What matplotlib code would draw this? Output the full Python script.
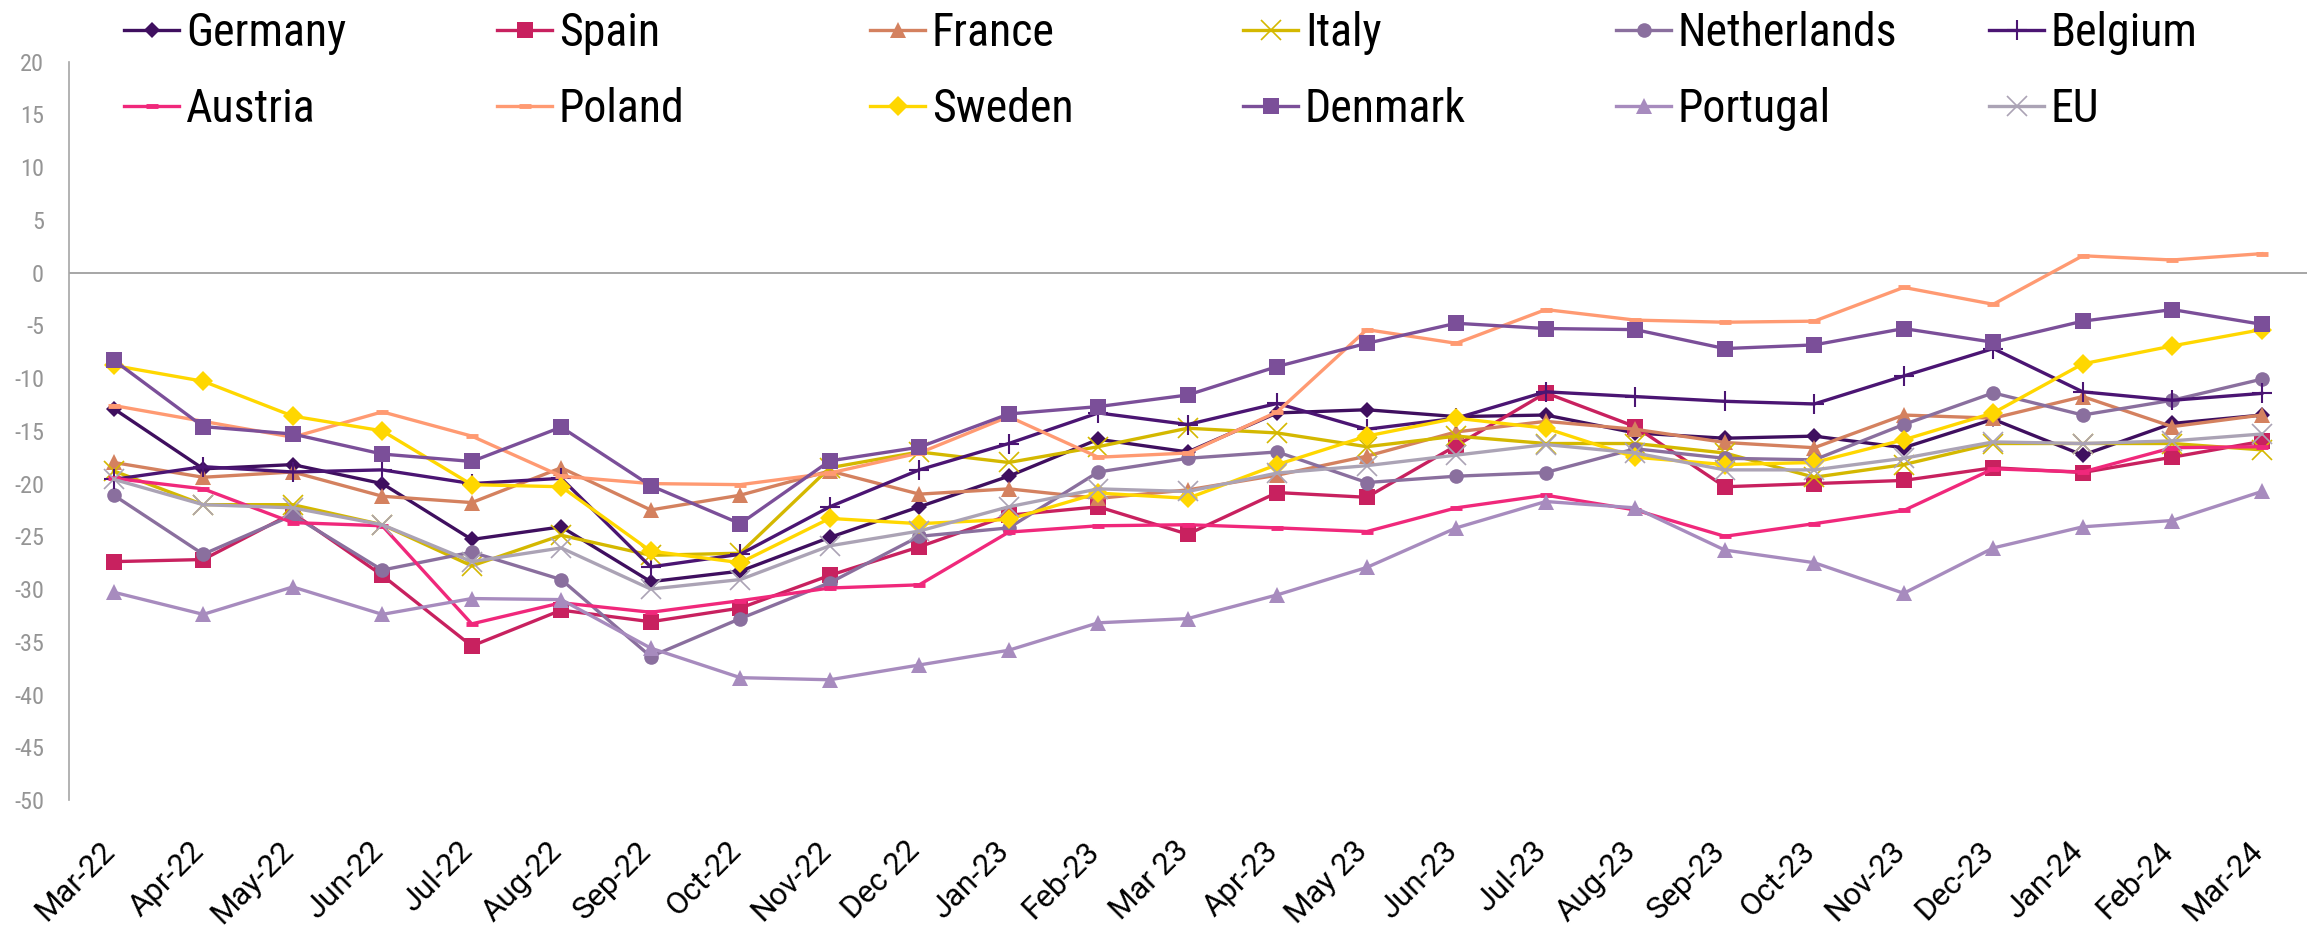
import matplotlib
matplotlib.use("Agg")
import matplotlib.pyplot as plt
from matplotlib import font_manager as fm
from matplotlib.transforms import ScaledTranslation

names_avail = {f.name for f in fm.fontManager.ttflist}
COND = 'Roboto Condensed' if 'Roboto Condensed' in names_avail else 'Roboto'
plt.rcParams['font.family'] = ['Roboto', 'DejaVu Sans']

months = ["Mar-22", "Apr-22", "May-22", "Jun-22", "Jul-22", "Aug-22", "Sep-22", "Oct-22",
          "Nov-22", "Dec 22", "Jan-23", "Feb-23", "Mar 23", "Apr-23", "May 23", "Jun-23",
          "Jul-23", "Aug-23", "Sep-23", "Oct-23", "Nov-23", "Dec-23", "Jan-24", "Feb-24", "Mar-24"]

germany = [-12.9, -18.6, -18.2, -20.0, -25.3, -24.1, -29.3, -28.3, -25.1, -22.2, -19.3, -15.8, -17.0,
           -13.3, -13.0, -13.65, -13.5, -15.2, -15.7, -15.5, -16.6, -13.9, -17.3, -14.3, -13.5]
spain = [-27.4, -27.2, -22.8, -28.7, -35.4, -32.0, -33.1, -31.8, -28.7, -26.0, -23.0, -22.2, -24.8,
         -20.85, -21.3, -16.4, -11.4, -14.6, -20.3, -20.0, -19.7, -18.5, -18.95, -17.5, -16.0]
france = [-18.0, -19.4, -18.9, -21.2, -21.8, -18.5, -22.5, -21.1, -18.8, -21.0, -20.5, -21.4, -20.6,
          -19.2, -17.4, -15.1, -14.1, -14.85, -16.1, -16.6, -13.5, -13.8, -11.75, -14.6, -13.5]
italy = [-18.8, -22.0, -22.0, -23.9, -27.8, -24.9, -26.8, -26.6, -18.5, -17.0, -18.0, -16.5, -14.75,
         -15.2, -16.5, -15.5, -16.2, -16.2, -17.1, -19.4, -18.2, -16.2, -16.2, -16.2, -16.8]
netherlands = [-21.1, -26.7, -23.0, -28.2, -26.5, -29.1, -36.4, -32.8, -29.4, -25.0, -24.2, -18.9, -17.6,
               -17.0, -19.9, -19.3, -18.95, -16.7, -17.6, -17.75, -14.4, -11.4, -13.5, -12.1, -10.1]
belgium = [-19.6, -18.4, -18.9, -18.7, -20.0, -19.5, -27.9, -26.7, -22.2, -18.7, -16.2, -13.3, -14.4,
           -12.4, -14.85, -13.8, -11.3, -11.75, -12.2, -12.45, -9.8, -7.2, -11.3, -12.1, -11.45]
austria = [-19.5, -20.5, -23.7, -24.0, -33.3, -31.3, -32.2, -31.1, -29.9, -29.6, -24.6, -24.0, -23.9,
           -24.2, -24.55, -22.3, -21.1, -22.5, -25.0, -23.8, -22.55, -18.6, -18.9, -16.6, -16.5]
poland = [-12.6, -14.1, -15.6, -13.2, -15.5, -19.3, -20.0, -20.1, -19.0, -17.1, -13.65, -17.5, -17.1,
          -13.2, -5.4, -6.7, -3.5, -4.5, -4.7, -4.6, -1.4, -3.0, 1.6, 1.2, 1.8]
sweden = [-8.8, -10.3, -13.6, -15.0, -20.1, -20.3, -26.4, -27.5, -23.3, -23.8, -23.4, -20.9, -21.4,
          -18.2, -15.5, -13.8, -14.75, -17.5, -18.2, -18.0, -15.85, -13.3, -8.65, -6.95, -5.4]
denmark = [-8.3, -14.6, -15.3, -17.2, -17.9, -14.65, -20.2, -23.8, -17.85, -16.55, -13.4, -12.7, -11.6,
           -8.9, -6.7, -4.8, -5.3, -5.4, -7.2, -6.85, -5.3, -6.6, -4.6, -3.5, -4.9]
portugal = [-30.3, -32.4, -29.8, -32.4, -30.9, -31.0, -35.6, -38.4, -38.6, -37.2, -35.8, -33.2, -32.8,
            -30.55, -27.95, -24.2, -21.7, -22.3, -26.3, -27.5, -30.4, -26.1, -24.1, -23.5, -20.75]
eu = [-19.6, -22.0, -22.3, -23.9, -27.4, -26.1, -30.0, -29.1, -25.9, -24.5, -22.2, -20.5, -20.75,
      -19.0, -18.3, -17.3, -16.3, -17.1, -18.7, -18.7, -17.6, -16.05, -16.2, -15.95, -15.3]

series_names = ["Germany", "Spain", "France", "Italy", "Netherlands", "Belgium",
                "Austria", "Poland", "Sweden", "Denmark", "Portugal", "EU"]
series_values = [germany, spain, france, italy, netherlands, belgium,
                 austria, poland, sweden, denmark, portugal, eu]

styles = {
    "Germany":     dict(color="#3F0F5F", marker="D", ms=8, mew=0),
    "Spain":       dict(color="#C8215F", marker="s", ms=11, mew=0),
    "France":      dict(color="#D4815F", marker="^", ms=11, mew=0),
    "Italy":       dict(color="#D4B800", marker="x", ms=14, mew=1.2),
    "Netherlands": dict(color="#8A6F9E", marker="o", ms=10.5, mew=0),
    "Belgium":     dict(color="#4B1573", marker="+", ms=15, mew=1.5),
    "Austria":     dict(color="#F0287B", marker="_", ms=8, mew=3.5),
    "Poland":      dict(color="#FF9A72", marker="_", ms=8, mew=3.5),
    "Sweden":      dict(color="#FFD700", marker="D", ms=10, mew=0),
    "Denmark":     dict(color="#7B4F99", marker="s", ms=12, mew=0),
    "Portugal":    dict(color="#A78BBE", marker="^", ms=11.5, mew=0),
    "EU":          dict(color="#ABA3B5", marker="x", ms=14, mew=1.2),
}

W, H = 2313, 930
fig = plt.figure(figsize=(W / 100, H / 100), dpi=100)
ax = fig.add_axes([69 / W, 1 - 800 / H, (2306.5 - 69) / W, (800 - 61.7) / H])

x = list(range(len(months)))
handles = []
for i, (name, vals) in enumerate(zip(series_names, series_values)):
    st = styles[name]
    h, = ax.plot(x, vals, color=st["color"], lw=2.4, marker=st["marker"], ms=st["ms"],
                 mew=st["mew"], mec=st["color"], mfc=st["color"], zorder=3 + i,
                 solid_joinstyle="round")
    handles.append(h)

ax.axhline(0, color="#A6A6A6", lw=1.4, zorder=2)
ax.set_xlim(-0.5, len(months) - 0.5)
ax.set_ylim(-50, 20)
ax.set_yticks(range(-50, 25, 5))
ax.set_yticklabels([str(v) for v in range(-50, 25, 5)], fontsize=17.5, color="#959595", family=COND)
for s in ["top", "right", "bottom"]:
    ax.spines[s].set_visible(False)
ax.spines["left"].set_color("#A6A6A6")
ax.spines["left"].set_linewidth(1.2)
ax.tick_params(axis="both", length=0)
ax.tick_params(axis="y", pad=18)
ax.tick_params(axis="x", pad=26)
ax.set_xticks(x)
ax.set_xticklabels(months, rotation=45, ha="right", va="top", rotation_mode="anchor",
                   fontsize=22.5, color="black")
off = ScaledTranslation(-14 / 100, 0, fig.dpi_scale_trans)
for lab in ax.get_xticklabels():
    lab.set_transform(lab.get_transform() + off)

# legend: 2 rows x 6 columns, each entry placed individually
leg_fs = 33 if COND == 'Roboto Condensed' else 31
for k, (h, name) in enumerate(zip(handles, series_names)):
    col, row = k % 6, k // 6
    xpx = 124 + 373 * col
    ypx = 33 if row == 0 else 109
    fig.legend(handles=[h], labels=[name], loc="center left",
               bbox_to_anchor=(xpx / W, 1 - ypx / H), frameon=False,
               borderpad=0, borderaxespad=0, handlelength=1.2, handletextpad=0.15,
               prop=dict(family=COND, size=leg_fs))

fig.savefig("out.png", dpi=100)
